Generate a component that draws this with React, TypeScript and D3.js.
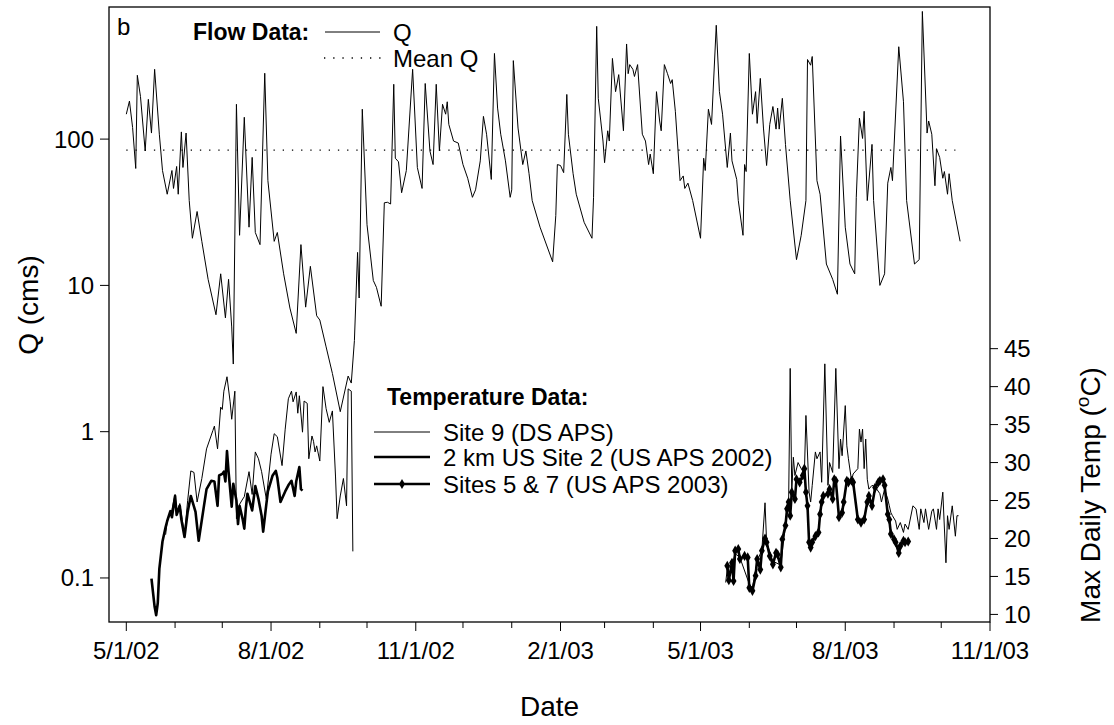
import React from "react";
import * as d3 from "d3";

// ---------- data ----------
// day = days since 5/1/02
const START = new Date(2002, 4, 1);
const xTickLabels = ["5/1/02", "8/1/02", "11/1/02", "2/1/03", "5/1/03", "8/1/03", "11/1/03"];
const qTicks = [0.1, 1, 10, 100];
const qTickLabels = ["0.1", "1", "10", "100"];
const tempTicks = [10, 15, 20, 25, 30, 35, 40, 45];
const meanQ = 84;
const meanQDays = [0, 527];

// [day, Q (cms)]
const flowQ: [number, number][] = [
  [0, 148], [2, 182], [4, 120], [6, 63], [7, 273], [9, 196], [12, 83], [14, 187], [16, 110], [18, 300],
  [21, 108], [23, 61], [26, 42], [29, 61], [30, 46], [32, 65], [33, 42], [35, 112], [36, 64], [38, 110],
  [40, 38], [42, 21], [45, 32], [48, 20], [52, 11], [57, 6.3], [60, 12], [63, 6], [65, 11], [67, 5.2],
  [68, 2.9], [70, 173], [72, 22], [75, 141], [78, 25], [80, 75], [82, 23], [85, 19], [88, 282], [90, 52],
  [94, 20], [96, 23], [100, 12], [104, 7], [108, 4.7], [111, 19], [114, 7.1], [117, 13.5], [121, 6.2], [123, 5.8],
  [127, 3.8], [131, 2.5], [136, 1.37], [141, 2.4], [143, 2.15], [145, 4.2], [147, 16.8], [148, 8.2], [150, 160], [153, 26],
  [157, 10.8], [159, 9.7], [162, 7.2], [164, 36.7], [166, 37], [168, 36], [170, 237], [171, 74], [173, 70], [175, 43],
  [178, 61], [182, 300], [185, 64], [188, 46], [190, 240], [193, 83], [195, 67], [197, 237], [199, 83], [201, 173],
  [203, 148], [204, 180], [205, 126], [208, 97], [211, 94], [214, 67], [217, 54], [220, 40], [222, 45], [225, 71],
  [227, 143], [229, 108], [232, 53], [234, 385], [236, 163], [238, 108], [239, 94], [241, 71], [244, 40], [245, 45],
  [246, 344], [249, 119], [252, 67], [254, 83], [256, 58], [258, 38], [263, 25], [271, 14.5], [273, 30], [274, 67],
  [276, 66], [278, 59], [280, 202], [281, 108], [284, 58], [286, 42], [291, 27], [296, 21], [297, 40], [299, 590],
  [300, 190], [303, 97], [304, 69], [306, 114], [307, 97], [309, 356], [311, 211], [313, 276], [316, 114], [318, 447],
  [319, 280], [320, 323], [322, 300], [323, 268], [325, 323], [328, 108], [330, 97], [332, 67], [333, 79], [335, 58],
  [337, 211], [339, 133], [340, 114], [342, 323], [344, 280], [346, 240], [347, 255], [349, 155], [352, 52], [354, 56],
  [355, 46], [357, 50], [360, 38], [365, 21], [367, 74], [368, 61], [370, 160], [372, 126], [375, 600], [377, 211],
  [379, 148], [382, 64], [384, 110], [385, 71], [388, 53], [389, 38], [392, 22], [393, 67], [394, 60], [396, 385],
  [398, 148], [400, 211], [401, 128], [403, 260], [405, 119], [407, 66], [409, 126], [411, 167], [413, 117], [414, 163],
  [415, 117], [417, 190], [419, 92], [422, 38], [426, 15], [429, 22], [432, 38], [433, 350], [435, 320], [436, 367],
  [439, 52], [441, 42], [445, 14], [449, 11], [452, 8.7], [454, 105], [457, 25], [460, 14], [463, 12], [464, 40],
  [466, 139], [468, 101], [469, 155], [471, 38], [474, 92], [475, 38], [479, 10], [482, 12], [484, 50], [486, 64],
  [487, 52], [491, 428], [494, 180], [496, 38], [501, 14], [504, 15], [506, 746], [509, 110], [510, 133], [512, 108],
  [514, 48], [515, 86], [517, 75], [519, 54], [520, 60], [522, 42], [523, 58], [525, 38], [530, 20],
];

// [day, max daily temp °C]
const site9_2002: [number, number][] = [
  [25, 20.5], [26, 22.3], [29, 23.8], [31, 25.8], [32, 23.5], [34, 24.6], [37, 20.5], [39, 25], [41, 28.9], [43, 28.7],
  [45, 24.8], [48, 27.9], [51, 31.8], [55, 34.2], [56, 34.8], [58, 31.8], [60, 37.3], [61, 37], [62, 39.4], [64, 41.3],
  [66, 38], [67, 35.7], [69, 39.4], [70, 22.6], [72, 24.5], [74, 25.2], [75, 25.5], [78, 28.8], [80, 25.8], [82, 31.4],
  [84, 30.5], [86, 28.8], [89, 25.2], [92, 31.1], [94, 33.8], [96, 33.4], [99, 29.6], [101, 34.4], [103, 38.4], [105, 39.4],
  [106, 38], [108, 39.3], [109, 36.5], [110, 38.8], [112, 34], [113, 38.1], [115, 37.8], [116, 30.5], [118, 33.5], [119, 32.8],
  [120, 31.4], [121, 32.2], [123, 30.2], [125, 40], [127, 37.1], [129, 35.3], [131, 36.8], [133, 28.1], [134, 22.6], [136, 25.6],
  [138, 27.9], [140, 24.3], [141, 39.7], [143, 39.4], [144, 18.3],
];

const site2_2002: [number, number][] = [
  [16, 14.7], [18, 11], [19, 9.9], [20, 11.5], [21, 16], [23, 19.6], [25, 21.5], [26, 22.3], [28, 23.6], [29, 22.8],
  [31, 25.6], [32, 23.1], [34, 24.3], [35, 22.5], [37, 20.2], [39, 23.5], [41, 25.6], [44, 23.5], [46, 19.7], [49, 23.8],
  [51, 26.5], [54, 27.6], [56, 27.5], [58, 24.3], [59, 28.3], [61, 28.5], [62, 28.8], [63, 27.5], [64, 31.5], [65, 28.8],
  [67, 24.2], [68, 27.2], [70, 25], [71, 21.9], [72, 24.3], [74, 22.5], [75, 21.3], [76, 24], [77, 25.9], [80, 23.7],
  [82, 26.9], [84, 25.2], [86, 23], [87, 20.9], [89, 24.5], [90, 26.2], [93, 28.3], [95, 28.9], [96, 28], [98, 24.8],
  [101, 26.2], [103, 27], [105, 27.6], [107, 25.6], [108, 27.5], [110, 29.4], [111, 26.5], [112, 26.3],
];

const site9_2003: [number, number][] = [
  [381, 14.2], [382, 16], [385, 16.5], [387, 18], [390, 17.5], [396, 14], [398, 13.5], [401, 17], [404, 18.5], [406, 24.7],
  [407, 19.5], [411, 17], [416, 16.5], [418, 20], [421, 24.8], [422, 42.4], [423, 26.1], [424, 30.7], [425, 28.3], [427, 30],
  [429, 29.2], [431, 28.5], [432, 36.2], [434, 26.1], [435, 24.8], [436, 27], [438, 31.4], [439, 30.5], [441, 31.4], [442, 27.4],
  [444, 43], [446, 27], [447, 30], [449, 28.7], [451, 42.4], [453, 29.2], [454, 33.1], [455, 30.9], [457, 37.5], [458, 32.2],
  [459, 30.5], [461, 27.6], [462, 28.5], [465, 29.2], [466, 34.4], [467, 32.7], [468, 34.4], [469, 29.2], [470, 33.1], [471, 27.8],
  [472, 26.5], [474, 27], [476, 26.8], [479, 25.9], [480, 24.8], [482, 26.5], [484, 25.2], [485, 24.3], [486, 23.4], [487, 23],
  [489, 22.3], [490, 21.2], [492, 22.1], [494, 20.8], [495, 21.9], [497, 21.2], [500, 24.3], [502, 23.9], [504, 21.2], [505, 23.9],
  [507, 22.1], [508, 23.9], [510, 21.2], [512, 23.6], [513, 23.9], [515, 21.2], [516, 23.9], [517, 22.5], [519, 26.1], [521, 16.8],
  [522, 23], [523, 21.2], [525, 24.3], [527, 20.3], [528, 23], [529, 23],
];

const sites57_2003: [number, number][] = [
  [382, 16.4], [383, 14.5], [385, 16.8], [386, 14.4], [387, 18.4], [389, 18.6], [390, 17.3], [393, 17.7], [395, 17.5], [396, 13.5],
  [398, 13.1], [400, 15.1], [401, 17.3], [403, 15.9], [404, 18.4], [406, 20], [407, 19.5], [409, 17.7], [411, 16.6], [413, 18.1],
  [414, 17.9], [416, 16.2], [417, 19.9], [419, 21.7], [420, 23.9], [421, 24.8], [422, 23], [423, 26.1], [425, 25.2], [426, 27.8],
  [428, 27.4], [430, 28.3], [431, 29.2], [432, 26.1], [433, 24.3], [434, 19.5], [435, 18.8], [436, 19.5], [438, 20.3], [440, 20.8],
  [441, 23.2], [442, 24.8], [443, 25.6], [446, 25.9], [447, 26.5], [449, 25.2], [450, 27.8], [451, 27.6], [453, 22.8], [455, 23.4],
  [456, 24.8], [458, 27.6], [459, 27.4], [461, 27.6], [462, 27.4], [465, 22.5], [467, 22.1], [469, 22.5], [471, 24.8], [472, 25.6],
  [474, 24.3], [476, 26.7], [478, 27.4], [479, 27.6], [481, 27.8], [482, 27], [484, 23.2], [485, 22.5], [486, 20.6], [488, 19.9],
  [489, 19.5], [491, 18.1], [492, 19], [494, 19.7], [495, 19.5], [497, 19.6],
];

// ---------- chart ----------
const W = 1114;
const H = 725;
const L = 109, R = 990, T = 7, B = 622;
const FONT = "'Liberation Sans', Arial, Helvetica, sans-serif";

const day = (d: number) => d3.timeDay.offset(START, d);

export default function App() {
  const x = d3.scaleTime().domain([new Date(2002, 3, 20), new Date(2003, 10, 1)]).range([L, R]);
  const yQ = d3.scaleLog().domain([0.05, 800]).range([B, T]);
  const yT = d3.scaleLinear().domain([9, 90]).range([B, T]);

  const qLine = d3.line<[number, number]>().x((d) => x(day(d[0]))).y((d) => yQ(d[1]));
  const tLine = d3.line<[number, number]>().x((d) => x(day(d[0]))).y((d) => yT(d[1]));
  const diamond = d3.symbol().type(d3.symbolDiamond).size(30)();

  const months = d3.timeMonth.range(new Date(2002, 4, 1), new Date(2003, 10, 2));

  return (
    <svg width={W} height={H} style={{ position: "absolute", left: 0, top: 0, background: "#fff" }} fontFamily={FONT}>
      <rect x={0} y={0} width={W} height={H} fill="#fff" />
      {/* data */}
      <line
        x1={x(day(meanQDays[0]))} x2={x(day(meanQDays[1]))} y1={yQ(meanQ)} y2={yQ(meanQ)}
        stroke="#000" strokeWidth={1.3} strokeDasharray="1.3 7.9"
      />
      <path d={qLine(flowQ) || ""} fill="none" stroke="#000" strokeWidth={1} strokeLinejoin="round" />
      <path d={tLine(site9_2002) || ""} fill="none" stroke="#000" strokeWidth={1} strokeLinejoin="round" />
      <path d={tLine(site9_2003) || ""} fill="none" stroke="#000" strokeWidth={1} strokeLinejoin="round" />
      <path d={tLine(site2_2002) || ""} fill="none" stroke="#000" strokeWidth={2.6} strokeLinejoin="round" />
      <path d={tLine(sites57_2003) || ""} fill="none" stroke="#000" strokeWidth={2.6} strokeLinejoin="round" />
      {sites57_2003.map((d, i) => (
        <path key={i} d={diamond || ""} transform={`translate(${x(day(d[0]))},${yT(d[1])})`} fill="#000" />
      ))}

      {/* frame */}
      <rect x={L} y={T} width={R - L} height={B - T} fill="none" stroke="#000" strokeWidth={1.3} />

      {/* x axis */}
      {months.map((m, i) => {
        const major = i % 3 === 0;
        return (
          <line key={i} x1={x(m)} x2={x(m)} y1={B} y2={B + (major ? 9 : 6)} stroke="#000" strokeWidth={1} />
        );
      })}
      {months.filter((_, i) => i % 3 === 0).map((m, i) => (
        <text key={i} x={x(m)} y={659} fontSize={24} textAnchor="middle" fill="#000">
          {xTickLabels[i]}
        </text>
      ))}
      <text x={(L + R) / 2} y={716} fontSize={28} textAnchor="middle" fill="#000">Date</text>

      {/* left axis */}
      {qTicks.map((v, i) => (
        <g key={i}>
          <line x1={L - 9} x2={L} y1={yQ(v)} y2={yQ(v)} stroke="#000" strokeWidth={1} />
          <text x={L - 15} y={yQ(v) + 8.5} fontSize={24} textAnchor="end" fill="#000">{qTickLabels[i]}</text>
        </g>
      ))}
      <text transform="translate(38,305) rotate(-90)" fontSize={28} textAnchor="middle" fill="#000">Q (cms)</text>

      {/* right axis */}
      {tempTicks.map((v, i) => (
        <g key={i}>
          <line x1={R} x2={R + 8} y1={yT(v)} y2={yT(v)} stroke="#000" strokeWidth={1} />
          <text x={R + 14} y={yT(v) + 8.5} fontSize={24} textAnchor="start" fill="#000">{v}</text>
        </g>
      ))}
      <text transform="translate(1100,495) rotate(-90)" fontSize={28} textAnchor="middle" fill="#000">
        Max Daily Temp (<tspan fontSize={19} dy={-11}>o</tspan><tspan dy={11}>C)</tspan>
      </text>

      {/* panel label */}
      <text x={117} y={35} fontSize={24} fill="#000">b</text>

      {/* flow legend */}
      <text x={193} y={40} fontSize={23} fontWeight="bold" fill="#000">Flow Data:</text>
      <line x1={325} x2={380} y1={32} y2={32} stroke="#000" strokeWidth={1} />
      <text x={393} y={41} fontSize={24} fill="#000">Q</text>
      <line x1={324} x2={382} y1={58} y2={58} stroke="#000" strokeWidth={1.3} strokeDasharray="1.3 7.9" />
      <text x={393} y={67} fontSize={24} fill="#000">Mean Q</text>

      {/* temperature legend */}
      <text x={387} y={405} fontSize={23} fontWeight="bold" fill="#000">Temperature Data:</text>
      <line x1={374} x2={430} y1={432} y2={432} stroke="#000" strokeWidth={1} />
      <text x={443} y={441} fontSize={24} fill="#000">Site 9 (DS APS)</text>
      <line x1={374} x2={430} y1={457} y2={457} stroke="#000" strokeWidth={2.6} />
      <text x={443} y={466} fontSize={24} fill="#000">2 km US Site 2 (US APS 2002)</text>
      <line x1={374} x2={430} y1={484} y2={484} stroke="#000" strokeWidth={2.6} />
      <path d={diamond || ""} transform="translate(402,484)" fill="#000" />
      <text x={443} y={493} fontSize={24} fill="#000">Sites 5 &amp; 7 (US APS 2003)</text>
    </svg>
  );
}
